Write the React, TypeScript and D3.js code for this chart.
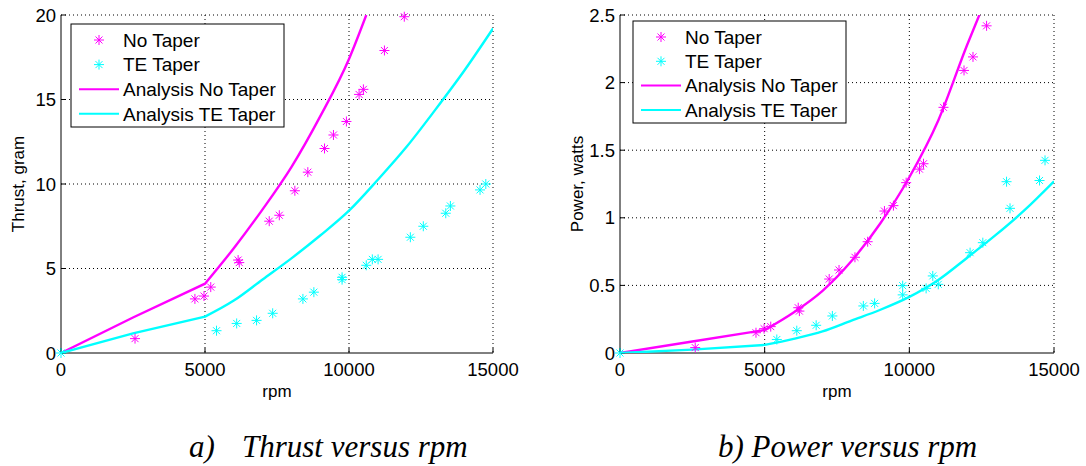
import React from "react";
import * as d3 from "d3";

// axis ticks
const rpmTicks = [0, 5000, 10000, 15000];
const thrustTicks = [0, 5, 10, 15, 20];
const powerTicks = [0, 0.5, 1, 1.5, 2, 2.5];

// measured thrust
const noTaperThrustRpm = [2570, 4650, 4965, 5200, 6150, 6190, 7230, 7580, 8120, 8570, 9150, 9460, 9910, 10350, 10500, 11230, 11920];
const noTaperThrust = [0.85, 3.2, 3.37, 3.9, 5.5, 5.35, 7.8, 8.15, 9.6, 10.7, 12.1, 12.9, 13.7, 15.3, 15.6, 17.9, 19.9];
const teTaperThrustRpm = [0, 5400, 6100, 6790, 7350, 8400, 8780, 9760, 9760, 10600, 10810, 11010, 12130, 12580, 13360, 13520, 14550, 14750];
const teTaperThrust = [0, 1.32, 1.75, 1.93, 2.35, 3.2, 3.6, 4.48, 4.34, 5.19, 5.54, 5.54, 6.85, 7.5, 8.27, 8.7, 9.65, 10.0];

// measured power
const noTaperPowerRpm = [2600, 4700, 4980, 5210, 6160, 6200, 7230, 7570, 8120, 8560, 9140, 9450, 9890, 10350, 10490, 11180, 11890, 12200, 12670];
const noTaperPower = [0.04, 0.15, 0.18, 0.195, 0.335, 0.31, 0.547, 0.614, 0.708, 0.823, 1.05, 1.09, 1.26, 1.36, 1.4, 1.817, 2.09, 2.19, 2.42];
const teTaperPowerRpm = [0, 5420, 6110, 6780, 7340, 8410, 8800, 9770, 9770, 10580, 10810, 11000, 12100, 12540, 13360, 13480, 14500, 14690];
const teTaperPower = [0, 0.1, 0.165, 0.205, 0.274, 0.348, 0.367, 0.498, 0.43, 0.478, 0.57, 0.508, 0.742, 0.816, 1.267, 1.07, 1.276, 1.425];

// analysis curves (straight up to the 5000 rpm break, smooth after it)
const breakRpm = 5000;
const anThrustNoRpm = [0, 2500, 5000, 6000, 7000, 8000, 9000, 10000, 10600];
const anThrustNo = [0, 2.1, 4.1, 6.2, 8.5, 11.0, 14.0, 17.4, 20];
const anThrustTeRpm = [0, 2500, 5000, 6000, 7000, 8000, 9000, 10000, 11000, 12000, 13000, 14000, 15000];
const anThrustTe = [0, 1.16, 2.15, 3.1, 4.35, 5.6, 6.95, 8.42, 10.25, 12.2, 14.4, 16.7, 19.2];
const anPowerNoRpm = [0, 2500, 5000, 6000, 7000, 8000, 9000, 10000, 11000, 12000, 12420];
const anPowerNo = [0, 0.085, 0.17, 0.3, 0.46, 0.68, 0.96, 1.3, 1.72, 2.28, 2.5];
const anPowerTeRpm = [0, 2500, 5000, 6000, 7000, 8000, 9000, 10000, 11000, 12000, 13000, 14000, 15000];
const anPowerTe = [0, 0.025, 0.06, 0.105, 0.16, 0.24, 0.32, 0.415, 0.54, 0.705, 0.875, 1.06, 1.27];

const legendLabels = ["No Taper", "TE Taper", "Analysis No Taper", "Analysis TE Taper"];

const MAG = "#ff00ff";
const CYA = "#00ffff";
const SANS = "'Liberation Sans', Arial, sans-serif";
const star = "M-5,0H5M0,-5V5M-3.5,-3.5L3.5,3.5M-3.5,3.5L3.5,-3.5";

const zip = (xs: number[], ys: number[]) => xs.map((x, i) => [x, ys[i]] as [number, number]);

type PanelProps = {
  id: string;
  x0: number;
  x1: number;
  yMax: number;
  yTicks: number[];
  yLabel: string;
  noPts: [number, number][];
  tePts: [number, number][];
  noLine: [number, number][];
  teLine: [number, number][];
  legend: { x: number; y: number; w: number; h: number; step: number };
};

const Panel = (p: PanelProps) => {
  const x = d3.scaleLinear().domain([0, 15000]).range([p.x0, p.x1]);
  const y = d3.scaleLinear().domain([0, p.yMax]).range([353, 15]);
  const straight = d3
    .line<[number, number]>()
    .x((d) => x(d[0]))
    .y((d) => y(d[1]))
    .curve(d3.curveLinear);
  const smooth = d3
    .line<[number, number]>()
    .x((d) => x(d[0]))
    .y((d) => y(d[1]))
    .curve(d3.curveMonotoneX);
  const curvePath = (pts: [number, number][]) => {
    const a = pts.filter((d) => d[0] <= breakRpm);
    const b = pts.filter((d) => d[0] >= breakRpm);
    return (straight(a) ?? "") + (smooth(b) ?? "").replace(/^M/, "L");
  };
  const top = y(p.yMax);
  const bot = y(0);
  const L = p.legend;
  return (
    <g fontFamily={SANS}>
      <defs>
        <clipPath id={p.id}>
          <rect x={x(0)} y={top} width={x(15000) - x(0)} height={bot - top} />
        </clipPath>
      </defs>
      {/* grid */}
      {rpmTicks.slice(1).map((t) => (
        <line key={"gx" + t} x1={x(t)} x2={x(t)} y1={top} y2={bot} stroke="#000" strokeDasharray="1,3" />
      ))}
      {p.yTicks.slice(1).map((t) => (
        <line key={"gy" + t} x1={x(0)} x2={x(15000)} y1={y(t)} y2={y(t)} stroke="#000" strokeDasharray="1,3" />
      ))}
      {/* axes */}
      <line x1={x(0)} x2={x(0)} y1={top} y2={bot} stroke="#000" />
      <line x1={x(0)} x2={x(15000)} y1={bot} y2={bot} stroke="#000" />
      {rpmTicks.map((t) => (
        <g key={"tx" + t}>
          <line x1={x(t)} x2={x(t)} y1={bot} y2={bot - 5} stroke="#000" />
          <text x={x(t)} y={376} textAnchor="middle" fontSize={18.5}>
            {t}
          </text>
        </g>
      ))}
      {p.yTicks.map((t) => (
        <g key={"ty" + t}>
          <line x1={x(0)} x2={x(0) + 5} y1={y(t)} y2={y(t)} stroke="#000" />
          <text x={x(0) - 5} y={y(t)} dy="0.36em" textAnchor="end" fontSize={18.5}>
            {String(t)}
          </text>
        </g>
      ))}
      <text x={(x(0) + x(15000)) / 2} y={397} textAnchor="middle" fontSize={17}>
        rpm
      </text>
      <text
        transform={`translate(${x(0) - 37},${(top + bot) / 2}) rotate(-90)`}
        textAnchor="middle"
        fontSize={17}
      >
        {p.yLabel}
      </text>
      {/* series */}
      <g clipPath={`url(#${p.id})`}>
        <path d={curvePath(p.noLine)} fill="none" stroke={MAG} strokeWidth={2.4} />
        <path d={curvePath(p.teLine)} fill="none" stroke={CYA} strokeWidth={2.4} />
      </g>
      {p.noPts.map((d, i) => (
        <path key={"n" + i} d={star} transform={`translate(${x(d[0])},${y(d[1])})`} stroke={MAG} fill="none" />
      ))}
      {p.tePts.map((d, i) => (
        <path key={"t" + i} d={star} transform={`translate(${x(d[0])},${y(d[1])})`} stroke={CYA} fill="none" />
      ))}
      {/* legend */}
      <rect x={L.x} y={L.y} width={L.w} height={L.h} fill="#fff" stroke="#000" />
      {legendLabels.map((lab, i) => {
        const cy = L.y + 16 + i * L.step;
        const col = i % 2 === 0 ? MAG : CYA;
        return (
          <g key={lab}>
            {i < 2 ? (
              <path d={star} transform={`translate(${L.x + 28},${cy})`} stroke={col} fill="none" />
            ) : (
              <line x1={L.x + 8} x2={L.x + 48} y1={cy} y2={cy} stroke={col} strokeWidth={2} />
            )}
            <text x={L.x + 52} y={cy} dy="0.36em" fontSize={19}>
              {lab}
            </text>
          </g>
        );
      })}
    </g>
  );
};

const App = () => {
  return (
    <div style={{ position: "absolute", left: 0, top: 0 }}>
      <svg width={1086} height={466} style={{ display: "block", background: "#fff" }}>
        <Panel
          id="clipA"
          x0={61}
          x1={493}
          yMax={20}
          yTicks={thrustTicks}
          yLabel="Thrust, gram"
          noPts={zip(noTaperThrustRpm, noTaperThrust)}
          tePts={zip(teTaperThrustRpm, teTaperThrust)}
          noLine={zip(anThrustNoRpm, anThrustNo)}
          teLine={zip(anThrustTeRpm, anThrustTe)}
          legend={{ x: 71, y: 24, w: 213, h: 103, step: 24.6 }}
        />
        <Panel
          id="clipB"
          x0={620}
          x1={1054}
          yMax={2.5}
          yTicks={powerTicks}
          yLabel="Power, watts"
          noPts={zip(noTaperPowerRpm, noTaperPower)}
          tePts={zip(teTaperPowerRpm, teTaperPower)}
          noLine={zip(anPowerNoRpm, anPowerNo)}
          teLine={zip(anPowerTeRpm, anPowerTe)}
          legend={{ x: 633, y: 21, w: 213, h: 102, step: 24.3 }}
        />
        <g fontFamily="'Liberation Serif', 'Times New Roman', serif" fontStyle="italic" fontSize={31}>
          <text x={189} y={457}>a)</text>
          <text x={242} y={457}>Thrust versus rpm</text>
          <text x={718} y={457}>b) Power versus rpm</text>
        </g>
      </svg>
    </div>
  );
};

export default App;
